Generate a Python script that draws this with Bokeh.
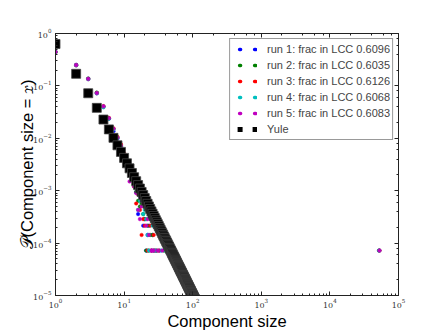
from bokeh.plotting import figure
from bokeh.models import LogAxis, Legend, LegendItem, Range1d
from bokeh.embed import file_html
from bokeh.resources import INLINE

# ---- data ----
run_labels = ["run 1: frac in LCC 0.6096", "run 2: frac in LCC 0.6035",
              "run 3: frac in LCC 0.6126", "run 4: frac in LCC 0.6068",
              "run 5: frac in LCC 0.6083"]
run_colors = ["#0000ff", "#008000", "#ff0000", "#00bfbf", "#bf00bf"]

run1_size = [1, 2, 3, 4, 5, 6, 7, 8, 9, 10, 11, 12, 13, 14, 15, 16, 17, 18, 19, 20, 21, 22, 23, 25, 26, 29, 33, 52500]
run1_prob = [0.446, 0.252, 0.137, 0.0732, 0.0405, 0.0238, 0.0137, 0.0099, 0.0069, 0.0049, 0.0035, 0.0025, 0.0017,
             0.00122, 0.00093, 3.58e-4, 7.9e-4, 6.4e-4, 2.15e-4, 2.87e-4, 7.2e-5, 1.43e-4, 2.15e-4, 7.2e-5,
             1.43e-4, 7.2e-5, 7.2e-5, 7.2e-5]

run2_size = [1, 2, 3, 4, 5, 6, 7, 8, 9, 10, 11, 12, 13, 14, 15, 16, 17, 18, 19, 20, 21, 22, 23, 24, 26, 27, 30, 38, 41, 52100]
run2_prob = [0.441, 0.247, 0.138, 0.0745, 0.0402, 0.0240, 0.0150, 0.0105, 0.0071, 0.0050, 0.0036, 0.0026, 0.0018,
             0.0013, 0.00095, 6.4e-4, 5.0e-4, 5.7e-4, 3.58e-4, 2.87e-4, 7.2e-5, 2.15e-4, 7.2e-5, 1.43e-4,
             1.43e-4, 7.2e-5, 7.2e-5, 7.2e-5, 7.2e-5, 7.2e-5]

run3_size = [1, 2, 3, 4, 5, 6, 7, 8, 9, 10, 11, 12, 13, 14, 15, 16, 17, 18, 19, 20, 22, 24, 25, 27, 28, 32, 52900]
run3_prob = [0.443, 0.250, 0.135, 0.0730, 0.0410, 0.0245, 0.0155, 0.0106, 0.0077, 0.0052, 0.0037, 0.0028, 0.0016,
             0.0012, 5.7e-4, 8.6e-4, 4.3e-4, 1.43e-4, 2.87e-4, 2.15e-4, 7.2e-5, 2.15e-4, 7.2e-5, 1.43e-4,
             7.2e-5, 7.2e-5, 7.2e-5]

run4_size = [1, 2, 3, 4, 5, 6, 7, 8, 9, 10, 11, 12, 13, 14, 15, 16, 17, 19, 20, 21, 22, 23, 26, 28, 35, 40, 52300]
run4_prob = [0.442, 0.248, 0.134, 0.0720, 0.0390, 0.0236, 0.0148, 0.0100, 0.0065, 0.0047, 0.0034, 0.0024, 0.0017,
             0.0013, 0.0011, 4.3e-4, 6.4e-4, 3.58e-4, 4.3e-4, 2.87e-4, 1.43e-4, 7.2e-5, 2.15e-4, 7.2e-5,
             7.2e-5, 7.2e-5, 7.2e-5]

run5_size = [1, 2, 3, 4, 5, 6, 7, 8, 9, 10, 11, 12, 13, 14, 15, 16, 17, 18, 21, 22, 23, 24, 25, 26, 27, 31, 36, 52700]
run5_prob = [0.444, 0.249, 0.136, 0.0728, 0.0407, 0.0242, 0.0152, 0.0103, 0.0072, 0.0048, 0.0033, 0.0015, 0.0022,
             0.0012, 0.0009, 4.3e-4, 2.87e-4, 5.0e-4, 2.15e-4, 2.87e-4, 1.43e-4, 2.87e-4, 7.2e-5, 7.2e-5,
             7.2e-5, 7.2e-5, 7.2e-5, 7.2e-5]

yule_size = list(range(1, 111))
yule_prob = [0.630, 0.170, 0.0724, 0.0381, 0.0228, 0.0148, 0.0102, 0.00735, 0.00550, 0.00423,
             0.00333, 0.00267, 0.00218, 0.00181, 0.00152, 0.00128, 0.00110, 9.48e-4, 8.24e-4, 7.22e-4,
             6.36e-4, 5.63e-4, 5.01e-4, 4.49e-4, 4.03e-4, 3.64e-4, 3.30e-4, 3.00e-4, 2.73e-4, 2.50e-4,
             2.30e-4, 2.11e-4, 1.95e-4, 1.80e-4, 1.67e-4, 1.55e-4, 1.44e-4, 1.34e-4, 1.25e-4, 1.17e-4,
             1.10e-4, 1.03e-4, 9.68e-5, 9.11e-5, 8.59e-5, 8.10e-5, 7.65e-5, 7.23e-5, 6.85e-5, 6.49e-5,
             6.16e-5, 5.85e-5, 5.56e-5, 5.29e-5, 5.04e-5, 4.80e-5, 4.58e-5, 4.38e-5, 4.18e-5, 4.00e-5,
             3.82e-5, 3.66e-5, 3.51e-5, 3.37e-5, 3.23e-5, 3.10e-5, 2.98e-5, 2.86e-5, 2.75e-5, 2.65e-5,
             2.55e-5, 2.46e-5, 2.37e-5, 2.29e-5, 2.21e-5, 2.13e-5, 2.06e-5, 1.99e-5, 1.92e-5, 1.86e-5,
             1.80e-5, 1.74e-5, 1.68e-5, 1.63e-5, 1.58e-5, 1.53e-5, 1.48e-5, 1.44e-5, 1.40e-5, 1.35e-5,
             1.31e-5, 1.28e-5, 1.24e-5, 1.21e-5, 1.17e-5, 1.14e-5, 1.11e-5, 1.08e-5, 1.05e-5, 1.02e-5,
             9.95e-6, 9.69e-6, 9.44e-6, 9.20e-6, 8.97e-6, 8.74e-6, 8.53e-6, 8.32e-6, 8.11e-6, 7.92e-6]

x_label = "Component size"
y_label = "\U0001D4AB(Component size = \U0001D465)"

runs = [(run1_size, run1_prob), (run2_size, run2_prob), (run3_size, run3_prob),
        (run4_size, run4_prob), (run5_size, run5_prob)]

# ---- figure ----
p = figure(width=443, height=332, x_axis_type="log", y_axis_type="log",
           x_range=Range1d(1, 1e5), y_range=Range1d(1e-5, 1),
           output_backend="svg", toolbar_location=None,
           min_border_left=55, min_border_right=45, min_border_top=33, min_border_bottom=33)
p.outline_line_color = None
p.xgrid.visible = False
p.ygrid.visible = False
p.background_fill_color = "white"
p.border_fill_color = "white"

def style_axis(ax, labels=True):
    ax.axis_line_color = "#222222"
    ax.axis_line_width = 1
    ax.major_tick_in = 4
    ax.major_tick_out = 0
    ax.minor_tick_in = 2
    ax.minor_tick_out = 0
    ax.major_tick_line_color = "#222222"
    ax.minor_tick_line_color = "#222222"
    ax.major_label_text_font = "DejaVu Serif"
    ax.major_label_text_font_size = "8px"
    ax.major_label_text_color = "#333333"
    if not labels:
        ax.major_label_text_alpha = 0
        ax.major_label_text_font_size = "2px"
        ax.major_label_standoff = 0
    else:
        ax.major_label_standoff = 4
    ax.axis_label_text_font = "Liberation Sans"
    ax.axis_label_text_font_size = "16.5px"
    ax.axis_label_text_font_style = "normal"
    ax.axis_label_text_color = "black"
    ax.axis_label_standoff = 3

style_axis(p.xaxis[0])
style_axis(p.yaxis[0])
p.xaxis[0].axis_label = x_label
p.yaxis[0].axis_label = y_label
p.xaxis[0].axis_label_standoff = 1
p.xaxis[0].major_label_standoff = 3
p.yaxis[0].axis_label_standoff = -6

top = LogAxis()
right = LogAxis()
style_axis(top, labels=False)
style_axis(right, labels=False)
p.add_layout(top, "above")
p.add_layout(right, "right")

items = []
for (sz, pr), col, lab in zip(runs, run_colors, run_labels):
    p.scatter(sz, pr, marker="circle", size=3.6, fill_color=col, line_color=col, line_width=0.4)
    # legend-only renderer to show two dots like the reference legend
    lr = p.line(x=[1e-9], y=[1e-9], line_color=col, line_width=3.5, line_dash="1 14",
                line_dash_offset=8, line_cap="round")
    items.append(LegendItem(label=lab, renderers=[lr]))

p.scatter(yule_size, yule_prob, marker="square", size=9, fill_color="black",
          line_color="#444444", line_width=0.8)
ly = p.line(x=[1e-9], y=[1e-9], line_color="black", line_width=5, line_dash="5 10",
            line_dash_offset=10, line_cap="butt")
items.append(LegendItem(label="Yule", renderers=[ly]))

legend = Legend(items=items, location="top_right", margin=5, padding=2,
                spacing=0, glyph_width=25, glyph_height=16, label_height=16,
                label_standoff=10, label_text_font="Liberation Sans", label_text_font_size="11px",
                border_line_color="#333333", border_line_width=1, background_fill_alpha=1)
p.add_layout(legend)

open("out.html", "w").write(file_html(p, INLINE))
